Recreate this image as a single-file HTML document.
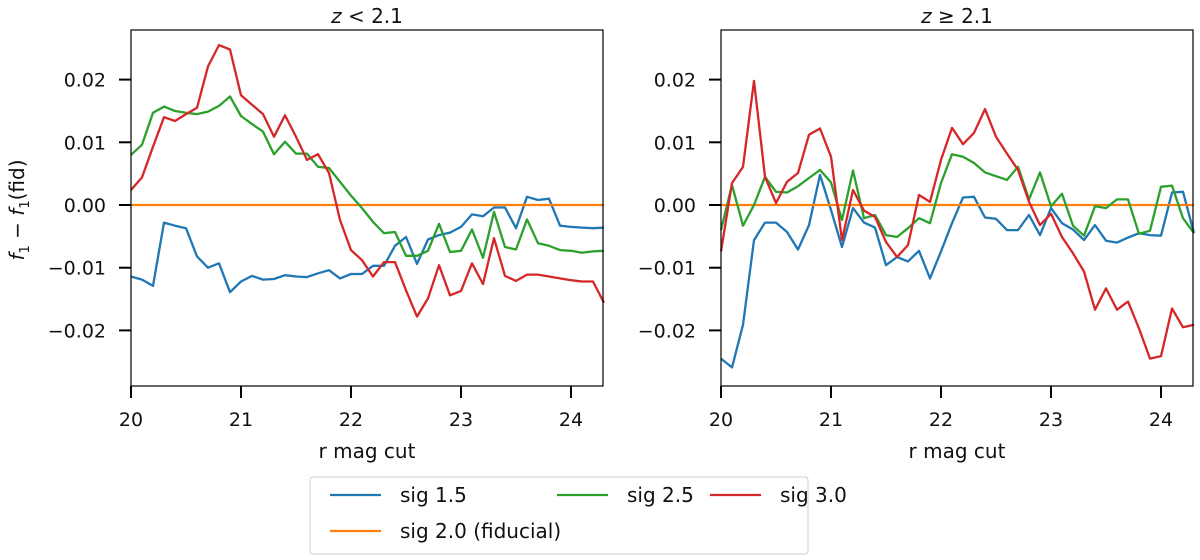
<!DOCTYPE html>
<html><head><meta charset="utf-8"><style>
body{margin:0;background:#fff;}
svg{display:block;font-family:"DejaVu Sans","Liberation Sans",sans-serif;}
</style></head><body>
<svg id="chart" width="1200" height="560" viewBox="0 0 1200 560" xmlns="http://www.w3.org/2000/svg"></svg>
<script>
const xStart = 20.0, xStep = 0.1;
const xTicks = [20, 21, 22, 23, 24];
const yTicks = [0.02, 0.01, 0.00, -0.01, -0.02];
const yTickLabels = ["0.02", "0.01", "0.00", "\u22120.01", "\u22120.02"];
const panelTitles = ["z < 2.1", "z \u2265 2.1"];
const seriesNames = ["sig 1.5", "sig 2.0 (fiducial)", "sig 2.5", "sig 3.0"];
const seriesColors = ["#1f77b4", "#ff7f0e", "#2ca02c", "#d62728"];
// values in units of 1e-3
const lowSig15 = [-11.4,-11.9,-12.9,-2.8,-3.3,-3.7,-8.2,-10.0,-9.3,-13.9,-12.2,-11.3,-11.9,-11.8,-11.2,-11.4,-11.5,-10.9,-10.4,-11.7,-11.0,-11.0,-9.7,-9.7,-6.5,-5.1,-9.4,-5.5,-4.8,-4.4,-3.5,-1.5,-1.8,-0.4,-0.4,-3.7,1.3,0.8,1.0,-3.3,-3.5,-3.6,-3.7,-3.6];
const lowSig25 = [8.0,9.6,14.7,15.7,15.0,14.7,14.5,14.9,15.8,17.3,14.2,12.9,11.7,8.1,10.1,8.2,8.2,6.1,5.9,3.7,1.5,-0.5,-2.7,-4.5,-4.3,-8.1,-8.1,-7.3,-3.0,-7.5,-7.3,-3.9,-8.4,-1.1,-6.7,-7.1,-2.3,-6.1,-6.5,-7.2,-7.3,-7.6,-7.4,-7.3];
const lowSig30 = [2.4,4.4,9.3,14.0,13.4,14.5,15.5,22.1,25.5,24.8,17.5,16.0,14.5,10.9,14.3,10.9,7.2,8.1,5.1,-2.4,-7.2,-8.8,-11.4,-9.1,-9.1,-13.6,-17.8,-14.9,-9.6,-14.4,-13.7,-9.3,-12.6,-5.3,-11.3,-12.1,-11.1,-11.1,-11.4,-11.7,-12.0,-12.2,-12.2,-15.6];
const highSig15 = [-24.5,-25.9,-19.1,-5.6,-2.8,-2.8,-4.3,-7.1,-3.2,4.8,-0.8,-6.7,-0.5,-2.8,-3.6,-9.6,-8.3,-9.0,-7.3,-11.7,-7.4,-2.9,1.2,1.3,-2.0,-2.2,-4.0,-4.0,-1.6,-4.8,-0.5,-2.9,-3.9,-5.6,-3.2,-5.7,-6.0,-5.2,-4.5,-4.8,-4.9,2.0,2.1,-4.5];
const highSig25 = [-4.0,3.2,-3.3,0,4.5,2.1,2.0,3.0,4.3,5.6,3.6,-2.4,5.5,-2.1,-1.6,-4.8,-5.1,-3.7,-2.1,-2.9,3.5,8.1,7.7,6.7,5.2,4.6,4.0,6.1,0.9,5.2,-0.2,1.8,-3.3,-4.9,-0.2,-0.5,0.9,0.9,-4.6,-4.1,2.9,3.1,-2.1,-4.5];
const highSig30 = [-7.4,3.5,6.1,19.8,4.5,0.3,3.7,5.1,11.2,12.2,7.7,-5.6,2.4,-0.9,-1.9,-5.9,-8.3,-6.4,1.6,0.5,7.2,12.3,9.7,11.5,15.3,10.9,8.2,5.6,0.5,-3.2,-1.4,-5.1,-7.7,-10.6,-16.7,-13.3,-16.7,-15.4,-19.7,-24.5,-24.1,-16.5,-19.5,-19.1];

const NS = "http://www.w3.org/2000/svg";
const svg = document.getElementById("chart");
function mk(tag, attrs, parent){const e=document.createElementNS(NS,tag);for(const k in attrs)e.setAttribute(k,attrs[k]);(parent||svg).appendChild(e);return e;}

const top_ = 30, bot = 386;
const xScaleFor = left => x => left + (x - 20) * 110;
const y = v => 205 - v * 6270;
const panels = [
  {left:131, right:603, data:[lowSig15, null, lowSig25, lowSig30], name:"low-z-panel"},
  {left:721, right:1193, data:[highSig15, null, highSig25, highSig30], name:"high-z-panel"}
];
panels.forEach((p, pi) => {
  const g = mk("g", {});
  
  
  const x = xScaleFor(p.left);
  const n = lowSig15.length;
  [0, 1, 2, 3].forEach(si => {
    let pts = [];
    for (let i = 0; i < n; i++) {
      const xv = xStart + i * xStep;
      const v = si === 1 ? 0 : p.data[si][i] / 1000;
      pts.push(x(xv).toFixed(1) + "," + y(v).toFixed(1));
    }
    const pl = mk("polyline", {points: pts.join(" "), fill:"none", stroke: seriesColors[si], "stroke-width":2.3, "stroke-linejoin":"round"}, g);
    
    
  });
  const frame = mk("rect", {x:p.left, y:top_, width:p.right-p.left, height:bot-top_, fill:"none", stroke:"#000", "stroke-width":1.2}, g);
  
  
  xTicks.forEach(t => {
    const tx = x(t);
    const tl = mk("line", {x1:tx, x2:tx, y1:bot, y2:bot+12, stroke:"#000", "stroke-width":2}, g);
    
    
    const tt = mk("text", {x:tx, y:bot+40, "text-anchor":"middle", "font-size":19, fill:"#111"}, g);
    tt.textContent = t;
    
    
  });
  yTicks.forEach((t, i) => {
    const ty = y(t);
    const tl = mk("line", {x1:p.left-12, x2:p.left, y1:ty, y2:ty, stroke:"#000", "stroke-width":2}, g);
    
    
    const tt = mk("text", {x:p.left-25, y:ty+7, "text-anchor":"end", "font-size":19, fill:"#111"}, g);
    tt.textContent = yTickLabels[i];
    
    
  });
  const xl = mk("text", {x:(p.left+p.right)/2, y:458, "text-anchor":"middle", "font-size":20, fill:"#111"}, g);
  xl.textContent = "r mag cut";
  
  
  const ti = mk("text", {x:(p.left+p.right)/2, y:23, "text-anchor":"middle", "font-size":20, fill:"#111"}, g);
  ti.innerHTML = '<tspan font-style="italic">z</tspan>' + panelTitles[pi].slice(1);
  
  
});
const yl = mk("text", {x:0, y:0, transform:"translate(24,210) rotate(-90)", "text-anchor":"middle", "font-size":20, fill:"#111"});
yl.innerHTML = '<tspan font-style="italic">f</tspan><tspan font-size="13" dy="5">1</tspan><tspan dy="-5"> \u2212 </tspan><tspan font-style="italic">f</tspan><tspan font-size="13" dy="5">1</tspan><tspan dy="-5">(fid)</tspan>';



const lg = mk("g", {});


const lb = mk("rect", {x:310, y:477, width:498, height:77, rx:3, fill:"#fff", stroke:"#ccc", "stroke-width":1}, lg);


const legPos = [[330,495],[330,531],[557,495],[710,495]];
legPos.forEach((pos, si) => {
  const e = mk("g", {}, lg);
  
  
  mk("line", {x1:pos[0], x2:pos[0]+51, y1:pos[1], y2:pos[1], stroke:seriesColors[si], "stroke-width":2.3}, e);
  const t = mk("text", {x:pos[0]+70, y:pos[1]+7, "font-size":20, fill:"#111"}, e);
  t.textContent = seriesNames[si];
});
</script>
</body></html>
